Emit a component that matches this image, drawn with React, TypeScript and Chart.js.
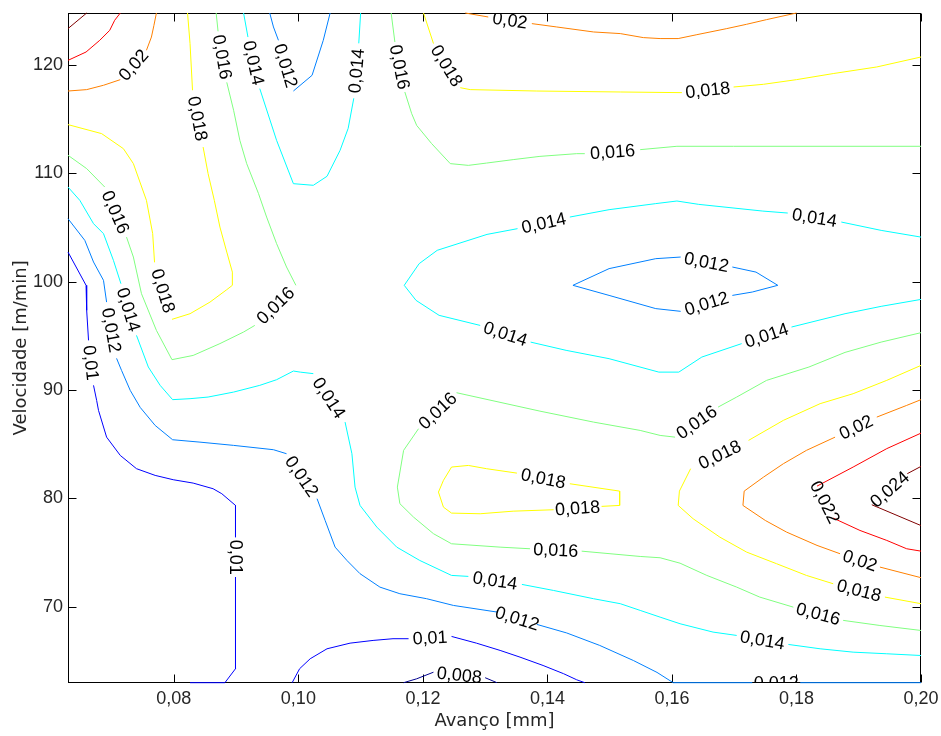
import { useEffect, useRef } from "react";
import { Chart, registerables } from "chart.js";

Chart.register(...registerables);

type Pt = [number, number] | null;

// ---- axes ----
const xTicks = [0.08, 0.1, 0.12, 0.14, 0.16, 0.18, 0.2];
const yTicks = [70, 80, 90, 100, 110, 120];
const xRange = [0.063, 0.2];
const yRange = [63, 124.8];
const xTitle = "Avanço [mm]";
const yTitle = "Velocidade [m/min]";

// ---- contour levels and jet colours ----
const levels = [0.008, 0.01, 0.012, 0.014, 0.016, 0.018, 0.02, 0.022, 0.024];
const levelColors = ["#00008f", "#0000ff", "#0080ff", "#00ffff", "#80ff80", "#ffff00", "#ff8000", "#ff0000", "#800000"];

// ---- contour lines (null = gap holding the level label) ----
const c008: Pt[] = [[0.1169, 63.0], [0.119, 63.36], [0.1217, 63.97], null, [0.130, 63.46], [0.1319, 63.0]];

const c010a: Pt[] = [[0.063, 102.74], [0.0659, 99.67], [0.066, 97.36], [0.0663, 94.59], null, [0.0671, 90.44], [0.0676, 89.05], [0.0679, 88.13], [0.0692, 85.66], [0.0714, 83.97], [0.074, 82.75], [0.077, 82.13], [0.0799, 81.73], [0.0831, 81.42], [0.0863, 80.9], [0.0877, 80.44], [0.0899, 79.36], [0.0899, 76.43], null, [0.0899, 72.74], [0.0899, 64.29], [0.0882, 63.0], [0.0826, 63.0]];
const c010b: Pt[] = [[0.099, 63.0], [0.1002, 64.29], [0.1019, 65.21], [0.1046, 66.13], [0.1083, 66.65], [0.112, 66.9], [0.1152, 67.06], [0.1177, 67.06], null, [0.1246, 67.27], [0.1286, 66.65], [0.1324, 65.98], [0.1356, 65.36], [0.1393, 64.59], [0.1426, 63.83], [0.1447, 63.27], [0.146, 63.0]];

const c012a: Pt[] = [[0.0954, 124.8], [0.096, 123.51], [0.0968, 122.28], null, [0.0992, 117.6], [0.1022, 119.05], [0.104, 122.28], [0.1051, 124.8]];
const c012b: Pt[] = [[0.063, 105.82], [0.0657, 103.82], [0.0671, 101.82], [0.0687, 100.13], [0.0692, 98.12], null, [0.0708, 92.93], [0.0716, 91.82], [0.073, 89.97], [0.0746, 88.4], [0.077, 86.74], [0.0798, 85.42], [0.0842, 85.2], [0.0896, 84.9], [0.096, 84.5], [0.0981, 84.13], null, [0.103, 79.98], [0.1043, 77.97], [0.1059, 75.51], [0.1078, 74.28], [0.1099, 73.06], [0.1131, 71.82], [0.1163, 71.21], [0.1206, 70.75], [0.1249, 70.13], [0.132, 69.51], null, [0.1383, 68.38], [0.1431, 67.59], [0.1484, 66.44], [0.1538, 65.05], [0.1576, 63.95], [0.1602, 63.0], [0.1729, 63.0], null, [0.1806, 63.0], [0.2, 63.0]];
const c012c: Pt[] = [[0.1441, 99.67], [0.1499, 101.21], [0.1574, 102.13], [0.1614, 102.28], null, [0.1697, 101.36], [0.1735, 100.89], [0.177, 99.67], [0.1729, 99.05], [0.1697, 98.74], null, [0.1614, 97.27], [0.1574, 97.52], [0.1499, 98.74], [0.1441, 99.67]];

const c014a: Pt[] = [[0.063, 108.74], [0.0649, 107.51], [0.0671, 105.36], [0.0687, 104.44], [0.0703, 101.97], [0.0715, 99.82], null, [0.074, 95.05], [0.0759, 92.13], [0.0778, 90.44], [0.0798, 89.12], [0.0826, 89.21], [0.0855, 89.36], [0.0896, 89.82], [0.0938, 90.44], [0.0965, 90.96], [0.0992, 91.76], [0.1003, 91.66], [0.1024, 91.52], null, [0.1075, 87.05], [0.1086, 84.13], [0.1091, 81.05], [0.1099, 79.36], [0.1126, 77.36], [0.1158, 75.51], [0.1195, 74.28], [0.1246, 72.9], [0.1273, 72.81], null, [0.1359, 72.07], [0.141, 71.51], [0.1474, 70.75], [0.1517, 70.29], [0.1549, 69.67], [0.1581, 69.05], [0.1613, 68.44], [0.1666, 67.67], [0.1704, 67.36], null, [0.1787, 66.53], [0.1838, 66.13], [0.1891, 65.82], [0.1945, 65.67], [0.2, 65.51]];
const c014b: Pt[] = [[0.0912, 124.8], [0.0919, 122.58], null, [0.0938, 117.82], [0.0965, 113.05], [0.0992, 109.05], [0.1024, 108.9], [0.1046, 109.73], [0.1067, 112.13], [0.108, 114.16], [0.1089, 116.93], null, [0.1097, 122.0], [0.11, 124.8]];
const c014c: Pt[] = [[0.2, 104.12], [0.1936, 104.74], [0.1872, 105.51], null, [0.1786, 106.34], [0.1746, 106.52], [0.1643, 107.14], [0.1608, 107.45], [0.1574, 107.21], [0.1499, 106.65], [0.1436, 105.97], null, [0.1352, 104.9], [0.1303, 104.37], [0.1223, 102.9], [0.1194, 101.67], [0.117, 99.67], [0.1189, 98.28], [0.1226, 96.9], [0.1292, 95.97], null, [0.1373, 94.43], [0.143, 93.67], [0.1499, 92.9], [0.1579, 91.66], [0.1611, 91.66], [0.1648, 93.05], [0.1712, 94.29], null, [0.1792, 95.82], [0.1878, 97.05], [0.1936, 97.73], [0.2, 98.37]];

const c016a: Pt[] = [[0.063, 111.67], [0.066, 110.44], [0.0689, 108.74], null, [0.0724, 104.12], [0.0735, 102.28], [0.0748, 98.9], [0.0772, 95.51], [0.0797, 92.81], [0.0831, 93.2], [0.0874, 94.29], [0.0912, 95.36], [0.093, 95.97], null, [0.0996, 99.67], [0.0981, 101.36], [0.0965, 103.52], [0.0949, 105.97], [0.0936, 108.13], [0.0917, 110.9], [0.0906, 113.05], [0.0896, 115.82], [0.0885, 118.4], null, [0.0871, 123.11], [0.0868, 124.8]];
const c016b: Pt[] = [[0.1149, 124.8], [0.1155, 122.12], null, [0.1171, 117.51], [0.1182, 115.51], [0.119, 114.43], [0.1214, 112.75], [0.1244, 110.9], [0.1273, 110.74], [0.1302, 110.95], [0.1345, 111.27], [0.1388, 111.57], [0.1447, 111.82], [0.146, 111.82], null, [0.1549, 112.19], [0.1608, 112.5], [0.1699, 112.5], [0.2, 112.5]];
const c016c: Pt[] = [[0.2, 95.3], [0.1936, 94.43], [0.1878, 93.48], [0.182, 92.13], [0.1752, 90.9], [0.1704, 89.36], [0.1674, 88.43], null, [0.1605, 85.66], [0.1581, 85.82], [0.1549, 86.28], [0.1474, 87.05], [0.1388, 88.06], [0.1254, 89.76], null, [0.1193, 86.44], [0.1169, 84.44], [0.1159, 81.05], [0.1163, 79.52], [0.1185, 78.28], [0.1217, 76.75], [0.1246, 75.82], [0.1324, 75.51], [0.1372, 75.36], null, [0.1455, 75.14], [0.1549, 74.65], [0.1581, 74.53], [0.1613, 74.03], [0.1656, 72.9], [0.1704, 71.82], [0.1741, 70.9], [0.1795, 69.97], null, [0.1875, 68.75], [0.1934, 68.28], [0.2, 67.82]];

const c018a: Pt[] = [[0.063, 114.5], [0.0684, 113.67], [0.0719, 112.28], [0.0735, 110.9], [0.0756, 107.51], [0.0766, 104.44], [0.0769, 101.79], null, [0.0797, 96.53], [0.0826, 97.05], [0.0858, 98.12], [0.0885, 99.27], [0.0894, 99.67], [0.0894, 100.89], [0.0885, 102.74], [0.0874, 105.05], [0.0865, 107.51], [0.0855, 109.98], [0.0847, 112.43], null, [0.083, 117.67], [0.0826, 121.98], [0.0822, 124.8]];
const c018b: Pt[] = [[0.1201, 124.8], [0.1217, 121.98], null, [0.126, 117.91], [0.1276, 117.73], [0.1383, 117.6], [0.1517, 117.51], [0.1616, 117.45], null, [0.1699, 117.97], [0.1747, 118.22], [0.18, 118.65], [0.1859, 119.21], [0.1929, 119.82], [0.2, 120.74]];
const c018c: Pt[] = [[0.1246, 82.9], [0.1273, 83.05], [0.1302, 82.75], [0.1351, 82.34], null, [0.1436, 81.36], [0.1516, 80.68], [0.1516, 79.36], [0.1487, 79.27], null, [0.141, 78.96], [0.1345, 78.83], [0.1292, 78.59], [0.1246, 78.65], [0.1233, 79.2], [0.1225, 80.59], [0.1233, 81.67], [0.1246, 82.9]];
const c018d: Pt[] = [[0.2, 92.28], [0.1945, 90.9], [0.1891, 89.67], [0.1838, 88.75], [0.1779, 87.21], [0.1723, 85.36], null, [0.163, 82.75], [0.1612, 80.68], [0.161, 79.36], [0.1634, 78.13], [0.1677, 76.43], [0.172, 75.05], [0.1768, 73.98], [0.1816, 72.9], [0.1859, 72.13], null, [0.1942, 70.9], [0.2, 70.29]];

const c020a: Pt[] = [[0.063, 117.6], [0.066, 117.73], [0.0687, 118.13], [0.0714, 118.65], null, [0.0756, 121.36], [0.0764, 122.58], [0.0768, 123.66], [0.0772, 124.8]];
const c020b: Pt[] = [[0.1268, 124.8], [0.1305, 124.43], null, [0.1375, 123.82], [0.1415, 123.51], [0.1474, 123.05], [0.1517, 122.9], [0.1554, 122.53], [0.1581, 122.44], [0.161, 122.44], [0.164, 122.8], [0.1688, 123.36], [0.172, 123.76], [0.1752, 124.19], [0.18, 124.8]];
const c020c: Pt[] = [[0.2, 89.12], [0.1977, 88.59], [0.1929, 87.51], null, [0.1862, 85.66], [0.1816, 84.44], [0.1779, 83.21], [0.1747, 81.97], [0.1716, 80.68], [0.1714, 79.36], [0.175, 77.97], [0.1784, 76.9], [0.1833, 75.67], [0.187, 74.9], null, [0.1934, 73.67], [0.2, 72.69]];

const c022a: Pt[] = [[0.063, 120.43], [0.0659, 121.2], [0.0681, 122.28], [0.0697, 123.2], [0.0705, 124.13], [0.0714, 124.8]];
const c022b: Pt[] = [[0.2, 86.03], [0.1945, 84.6], [0.1891, 82.9], [0.1833, 81.14], null, [0.1859, 78.19], [0.1902, 77.05], [0.1945, 76.13], [0.1977, 75.36], [0.2, 75.14]];

const c024a: Pt[] = [[0.063, 123.36], [0.066, 124.8]];
const c024b: Pt[] = [[0.2, 82.96], [0.1978, 82.29], null, [0.1921, 79.42], [0.2, 77.5]];

const contours: { level: number; pts: Pt[] }[] = [
  { level: 0.008, pts: c008 },
  { level: 0.01, pts: c010a },
  { level: 0.01, pts: c010b },
  { level: 0.012, pts: c012a },
  { level: 0.012, pts: c012b },
  { level: 0.012, pts: c012c },
  { level: 0.014, pts: c014a },
  { level: 0.014, pts: c014b },
  { level: 0.014, pts: c014c },
  { level: 0.016, pts: c016a },
  { level: 0.016, pts: c016b },
  { level: 0.016, pts: c016c },
  { level: 0.018, pts: c018a },
  { level: 0.018, pts: c018b },
  { level: 0.018, pts: c018c },
  { level: 0.018, pts: c018d },
  { level: 0.02, pts: c020a },
  { level: 0.02, pts: c020b },
  { level: 0.02, pts: c020c },
  { level: 0.022, pts: c022a },
  { level: 0.022, pts: c022b },
  { level: 0.024, pts: c024a },
  { level: 0.024, pts: c024b },
];

const fmtLevel = (v: number) => String(v).replace(".", ",");
const textColor = "#262626";
const tickFont = '"Liberation Sans", Arial, sans-serif';
const titleFont = '"DejaVu Sans", sans-serif';
const labelFont = '18px "Liberation Sans", Arial, sans-serif';

const framePlugin = {
  id: "frame",
  beforeDatasetsDraw(chart: any) {
    const { ctx, chartArea: a, scales } = chart;
    const L = Math.round(a.left) + 0.5;
    const R = Math.round(a.right) - 0.5;
    const T = Math.round(a.top) + 0.5;
    const B = Math.round(a.bottom) - 0.5;
    const tl = 8;
    ctx.save();
    ctx.strokeStyle = "#000";
    ctx.lineWidth = 1;
    ctx.strokeRect(L, T, R - L, B - T);
    ctx.beginPath();
    for (const v of xTicks) {
      const px = Math.round(scales.x.getPixelForValue(v)) + 0.5;
      ctx.moveTo(px, B);
      ctx.lineTo(px, B - tl);
      ctx.moveTo(px, T);
      ctx.lineTo(px, T + tl);
    }
    for (const v of yTicks) {
      const py = Math.round(scales.y.getPixelForValue(v)) + 0.5;
      ctx.moveTo(L, py);
      ctx.lineTo(L + tl, py);
      ctx.moveTo(R, py);
      ctx.lineTo(R - tl, py);
    }
    ctx.stroke();
    ctx.restore();
  },
};

const labelPlugin = {
  id: "clabels",
  afterDatasetsDraw(chart: any) {
    const { ctx, chartArea: a, scales } = chart;
    ctx.save();
    ctx.beginPath();
    ctx.rect(a.left, a.top, a.right - a.left, a.bottom - a.top);
    ctx.clip();
    ctx.font = labelFont;
    ctx.fillStyle = "#000";
    ctx.textAlign = "center";
    ctx.textBaseline = "middle";
    for (const c of contours) {
      const pts = c.pts;
      for (let i = 1; i < pts.length - 1; i++) {
        if (pts[i] !== null) continue;
        const p = pts[i - 1] as [number, number];
        const q = pts[i + 1] as [number, number];
        const ax = scales.x.getPixelForValue(p[0]);
        const ay = scales.y.getPixelForValue(p[1]);
        const bx = scales.x.getPixelForValue(q[0]);
        const by = scales.y.getPixelForValue(q[1]);
        let ang = Math.atan2(by - ay, bx - ax);
        if (ang > Math.PI / 2 + 1e-6) ang -= Math.PI;
        else if (ang <= -Math.PI / 2 - 1e-6) ang += Math.PI;
        ctx.save();
        ctx.translate((ax + bx) / 2, (ay + by) / 2);
        ctx.rotate(ang);
        ctx.fillText(fmtLevel(c.level), 0, 1);
        ctx.restore();
      }
    }
    ctx.restore();
  },
};

export default function App() {
  const ref = useRef<HTMLCanvasElement | null>(null);

  useEffect(() => {
    if (!ref.current) return;
    const datasets = contours.map((c) => {
      let last: [number, number] = [0, 0];
      const data = c.pts.map((p) => {
        if (p === null) return { x: last[0], y: null as any };
        last = p;
        return { x: p[0], y: p[1] };
      });
      return {
        data,
        borderColor: levelColors[levels.indexOf(c.level)],
        borderWidth: 1,
        pointRadius: 0,
        tension: 0,
        fill: false,
        spanGaps: false,
        clip: false as any,
      };
    });

    const chart = new Chart(ref.current, {
      type: "line",
      data: { datasets: datasets as any },
      options: {
        responsive: false,
        animation: false,
        events: [],
        layout: { padding: { top: 13, right: 20, left: 0, bottom: 0 } },
        plugins: { legend: { display: false }, tooltip: { enabled: false } },
        scales: {
          x: {
            type: "linear",
            min: xRange[0],
            max: xRange[1],
            afterBuildTicks: (s: any) => {
              s.ticks = xTicks.map((v) => ({ value: v }));
            },
            afterFit: (s: any) => {
              s.height = 53.3;
              s.paddingLeft = 0;
              s.paddingRight = 0;
            },
            grid: { display: false, drawTicks: false },
            border: { display: false },
            ticks: {
              autoSkip: false,
              maxRotation: 0,
              padding: 6,
              color: textColor,
              font: { family: tickFont, size: 18 },
              callback: (v: any) => Number(v).toFixed(2).replace(".", ","),
            },
            title: {
              display: true,
              text: xTitle,
              color: textColor,
              font: { family: titleFont, size: 18 },
              padding: { top: 0, bottom: 4 },
            },
          },
          y: {
            type: "linear",
            min: yRange[0],
            max: yRange[1],
            afterBuildTicks: (s: any) => {
              s.ticks = yTicks.map((v) => ({ value: v }));
            },
            afterFit: (s: any) => {
              s.width = 68;
              s.paddingTop = 0;
              s.paddingBottom = 0;
            },
            grid: { display: false, drawTicks: false },
            border: { display: false },
            ticks: {
              autoSkip: false,
              padding: 5,
              color: textColor,
              font: { family: tickFont, size: 18 },
              callback: (v: any) => String(v),
            },
            title: {
              display: true,
              text: yTitle,
              color: textColor,
              font: { family: titleFont, size: 18 },
              padding: { top: 11, bottom: 0 },
            },
          },
        },
      },
      plugins: [framePlugin, labelPlugin],
    });
    return () => chart.destroy();
  }, []);

  return (
    <div style={{ position: "absolute", left: 0, top: 0, width: 941, height: 736, background: "#fff" }}>
      <canvas ref={ref} width={941} height={736} style={{ display: "block" }} />
    </div>
  );
}
